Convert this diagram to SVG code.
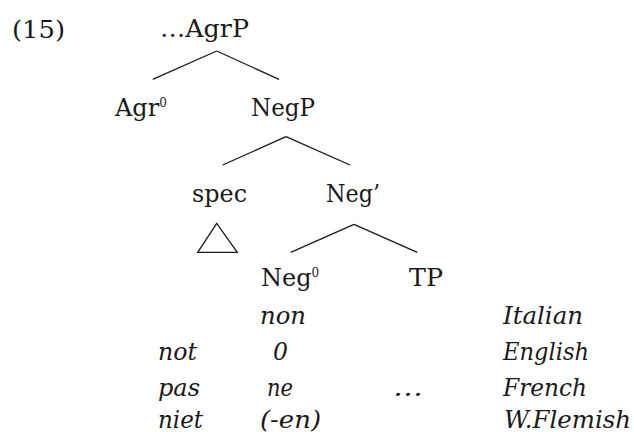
<svg xmlns="http://www.w3.org/2000/svg" width="634" height="432" viewBox="0 0 634 432">
<style>
text{font-family:"DejaVu Serif","Liberation Serif",serif;font-size:24px;fill:#1a1a1a}
.it{font-style:italic}
.sup{font-size:12px}
.edge{stroke:#1a1a1a;stroke-width:1.3;fill:none}
</style>
<rect width="634" height="432" fill="#fff"/>
<text id="ex" x="12" y="38" textLength="53" lengthAdjust="spacingAndGlyphs">(15)</text>
<g id="connectors">
<line class="edge" x1="216.7" y1="51" x2="152.7" y2="79.3"/>
<line class="edge" x1="216.7" y1="51" x2="279" y2="79.3"/>
<line class="edge" x1="286" y1="136.7" x2="222.7" y2="165"/>
<line class="edge" x1="286" y1="136.7" x2="350" y2="165"/>
<line class="edge" x1="354" y1="224.3" x2="290.7" y2="252.3"/>
<line class="edge" x1="354" y1="224.3" x2="417.3" y2="252.3"/>
</g>
<g id="AgrP"><text x="160" y="37" textLength="89" lengthAdjust="spacingAndGlyphs">…AgrP</text></g>
<g id="Agr0"><text x="115" y="115.5">Agr<tspan class="sup" dy="-8.5">0</tspan></text></g>
<g id="NegP"><text x="251" y="115.5" textLength="64" lengthAdjust="spacingAndGlyphs">NegP</text></g>
<g id="spec"><text x="192" y="202" textLength="55" lengthAdjust="spacingAndGlyphs">spec</text>
<polygon class="edge" points="216.7,223.3 197.7,252.3 237.3,252.3"/></g>
<g id="NegBar"><text x="326" y="202" textLength="54" lengthAdjust="spacingAndGlyphs">Neg’</text></g>
<g id="Neg0"><text x="261" y="285.5">Neg<tspan class="sup" dy="-8.5">0</tspan></text></g>
<g id="TP"><text x="409" y="285.5" textLength="34" lengthAdjust="spacingAndGlyphs">TP</text></g>
<g id="table">
<text class="it" x="260" y="323.5" textLength="46" lengthAdjust="spacingAndGlyphs">non</text>
<text class="it" x="503" y="323.5" textLength="80" lengthAdjust="spacingAndGlyphs">Italian</text>
<text class="it" x="158" y="359.5" textLength="39" lengthAdjust="spacingAndGlyphs">not</text>
<text class="it" x="273" y="359.5" textLength="15" lengthAdjust="spacingAndGlyphs">0</text>
<text class="it" x="503" y="359.5" textLength="86" lengthAdjust="spacingAndGlyphs">English</text>
<text class="it" x="158" y="395.5" textLength="42" lengthAdjust="spacingAndGlyphs">pas</text>
<text class="it" x="267" y="395.5" textLength="26" lengthAdjust="spacingAndGlyphs">ne</text>
<text class="it" x="393" y="395.5" textLength="30" lengthAdjust="spacingAndGlyphs">…</text>
<text class="it" x="503" y="395.5" textLength="84" lengthAdjust="spacingAndGlyphs">French</text>
<text class="it" x="158" y="427.5" textLength="45" lengthAdjust="spacingAndGlyphs">niet</text>
<text class="it" x="260" y="427.5" textLength="61" lengthAdjust="spacingAndGlyphs">(-en)</text>
<text class="it" x="504" y="427.5" textLength="127" lengthAdjust="spacingAndGlyphs">W.Flemish</text>
</g>
</svg>
